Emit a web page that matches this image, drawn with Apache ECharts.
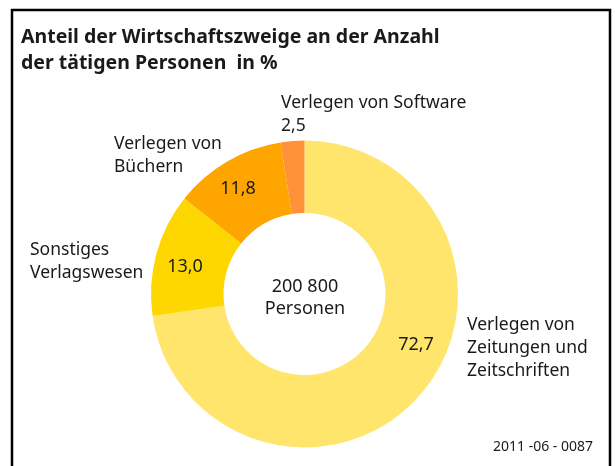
<!DOCTYPE html>
<html>
<head>
<meta charset="utf-8">
<script src="https://cdn.jsdelivr.net/npm/echarts@6/dist/echarts.min.js"></script>
<style>
html,body{margin:0;padding:0;background:#fff;}
#chart{width:615px;height:466px;}
</style>
</head>
<body>
<div id="chart"></div>
<script>
var categories = ['Verlegen von\nZeitungen und\nZeitschriften', 'Sonstiges\nVerlagswesen', 'Verlegen von\nBüchern', 'Verlegen von Software'];
var values = [72.7, 13.0, 11.8, 2.5];
var colors = ['#FFE56B', '#FFD700', '#FFA500', '#FF9138'];
var titleText = 'Anteil der Wirtschaftszweige an der Anzahl\nder tätigen Personen  in %';
var centerText = '200 800\nPersonen';
var footerText = '2011 -06 - 0087';

var FONT = 'Noto Sans';
var fmt = function (v) { return v.toFixed(1).replace('.', ','); };

var data = categories.map(function (c, i) {
  return { name: c, value: values[i], itemStyle: { color: colors[i] } };
});

var valuePos = [[416, 345], [185, 267], [238, 189], null];
var namePos = [[467, 314], [30, 239], [114, 133], [281, 92]];

var chart = echarts.init(document.getElementById('chart'), null, { renderer: 'canvas' });
chart.setOption({
  animation: false,
  backgroundColor: '#fff',
  title: {
    text: titleText,
    left: 21, top: 25, padding: 0,
    textStyle: { fontFamily: FONT, fontSize: 19.5, fontWeight: 'bold', color: '#1a1a1a', lineHeight: 25.5 }
  },
  graphic: [
    { type: 'rect', shape: { x: 12, y: 10, width: 598, height: 480 }, style: { fill: 'none', stroke: '#000', lineWidth: 2.5 }, silent: true },
    { type: 'text', x: 305, y: 297.5, style: { text: centerText, fontFamily: FONT, fontSize: 18, lineHeight: 22, fill: '#1a1a1a', align: 'center', verticalAlign: 'middle' } },
    { type: 'text', x: 593, y: 447, style: { text: footerText, fontFamily: FONT, fontSize: 14, fill: '#1a1a1a', align: 'right', verticalAlign: 'middle' } }
  ],
  series: [
    {
      type: 'pie',
      center: [304.5, 294],
      radius: [81, 153.5],
      startAngle: 90,
      clockwise: true,
      silent: true,
      data: data.map(function (d, i) {
        return Object.assign({}, d, i === 3 ? { label: { show: false } } : {});
      }),
      label: {
        show: true, position: 'inside',
        fontFamily: FONT, fontSize: 18, color: '#1a1a1a',
        formatter: function (p) { return fmt(p.value); }
      },
      labelLine: { show: false },
      labelLayout: function (p) {
        var pos = valuePos[p.dataIndex];
        if (!pos) return {};
        return { x: pos[0], y: pos[1], align: 'center', verticalAlign: 'middle' };
      }
    },
    {
      type: 'pie',
      center: [304.5, 294],
      radius: [81, 153.5],
      startAngle: 90,
      clockwise: true,
      silent: true,
      data: data.map(function (d) { return { name: d.name, value: d.value, itemStyle: { color: 'rgba(0,0,0,0)' } }; }),
      label: {
        show: true, position: 'outside', overflow: 'none', alignTo: 'none',
        fontFamily: FONT, fontSize: 17.5, lineHeight: 23, color: '#1a1a1a',
        formatter: function (p) { return p.dataIndex === 3 ? p.name + '\n' + fmt(p.value) : p.name; }
      },
      labelLine: { show: false },
      labelLayout: function (p) {
        var pos = namePos[p.dataIndex];
        return { x: pos[0], y: pos[1], align: 'left', verticalAlign: 'top' };
      }
    }
  ]
});
</script>
</body>
</html>
